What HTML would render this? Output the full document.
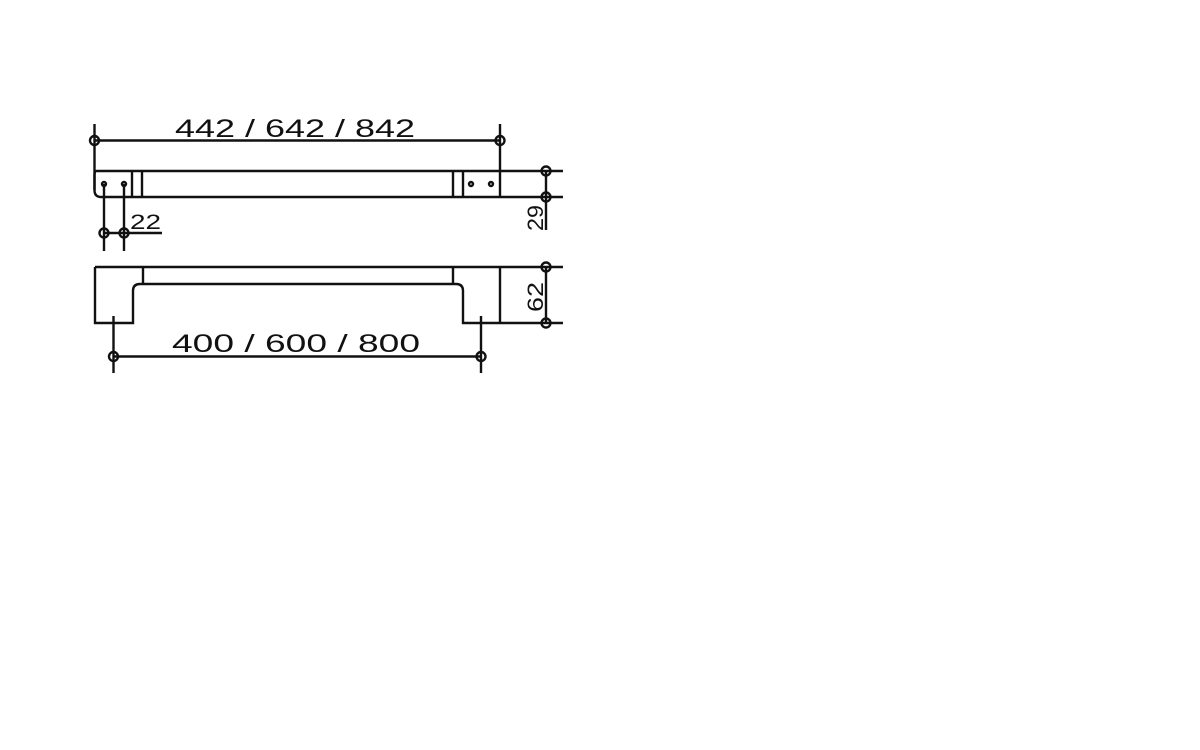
<!DOCTYPE html>
<html><head><meta charset="utf-8"><style>
html,body{margin:0;padding:0;background:#fff;width:1200px;height:750px;overflow:hidden}
svg{display:block}
text{font-family:"Liberation Sans",sans-serif;fill:#111}
</style></head><body>
<svg width="1200" height="750" viewBox="0 0 1200 750" xmlns="http://www.w3.org/2000/svg">
<g stroke="#111" stroke-width="2.4" fill="none" stroke-linecap="butt">
<!-- top dimension -->
<line x1="94.5" y1="140.5" x2="500" y2="140.5"/>
<line x1="94.5" y1="124" x2="94.5" y2="190"/>
<line x1="500" y1="124" x2="500" y2="197"/>
<circle cx="94.5" cy="140.5" r="4.5"/>
<circle cx="500" cy="140.5" r="4.5"/>
<!-- top bar -->
<path d="M500 171 H96.5 Q94.5 171 94.5 175 V190 Q94.5 197 101 197 H132"/>
<line x1="132" y1="197" x2="563" y2="197"/>
<line x1="500" y1="171" x2="563" y2="171"/>
<line x1="132" y1="171" x2="132" y2="197"/>
<line x1="142" y1="171" x2="142" y2="197"/>
<line x1="453" y1="171" x2="453" y2="197"/>
<line x1="463" y1="171" x2="463" y2="197"/>
<circle cx="104" cy="184" r="2"/>
<circle cx="124" cy="184" r="2"/>
<circle cx="471" cy="184" r="2"/>
<circle cx="491" cy="184" r="2"/>
<!-- 22 dim -->
<line x1="104" y1="184" x2="104" y2="251"/>
<line x1="124" y1="184" x2="124" y2="251"/>
<line x1="104" y1="233" x2="162" y2="233"/>
<circle cx="104" cy="233" r="4.5"/>
<circle cx="124" cy="233" r="4.5"/>
<!-- 29 dim -->
<line x1="546" y1="171" x2="546" y2="230"/>
<circle cx="546" cy="171" r="4.5"/>
<circle cx="546" cy="197" r="4.5"/>
<!-- bottom view -->
<line x1="95" y1="267" x2="563" y2="267"/>
<path d="M95 267 V323 H133 V291 Q133 284 140 284 H456 Q463 284 463 291 V323 H563"/>
<line x1="143" y1="267" x2="143" y2="284"/>
<line x1="453" y1="267" x2="453" y2="284"/>
<line x1="500" y1="267" x2="500" y2="323"/>
<line x1="546" y1="267" x2="546" y2="323"/>
<circle cx="546" cy="267" r="4.5"/>
<circle cx="546" cy="323" r="4.5"/>
<!-- bottom dim -->
<line x1="113.5" y1="356.5" x2="481" y2="356.5"/>
<line x1="113.5" y1="316" x2="113.5" y2="373"/>
<line x1="481" y1="316" x2="481" y2="373"/>
<circle cx="113.5" cy="356.5" r="4.5"/>
<circle cx="481" cy="356.5" r="4.5"/>
</g>
<text x="175" y="137" font-size="25" textLength="240" lengthAdjust="spacingAndGlyphs">442 / 642 / 842</text>
<text x="172" y="352" font-size="25" textLength="248" lengthAdjust="spacingAndGlyphs">400 / 600 / 800</text>
<text x="130" y="229" font-size="21" textLength="31" lengthAdjust="spacingAndGlyphs">22</text>
<text transform="translate(543,231) rotate(-90)" font-size="22" textLength="26" lengthAdjust="spacingAndGlyphs">29</text>
<text transform="translate(543,312) rotate(-90)" font-size="22" textLength="30" lengthAdjust="spacingAndGlyphs">62</text>
</svg>
</body></html>
